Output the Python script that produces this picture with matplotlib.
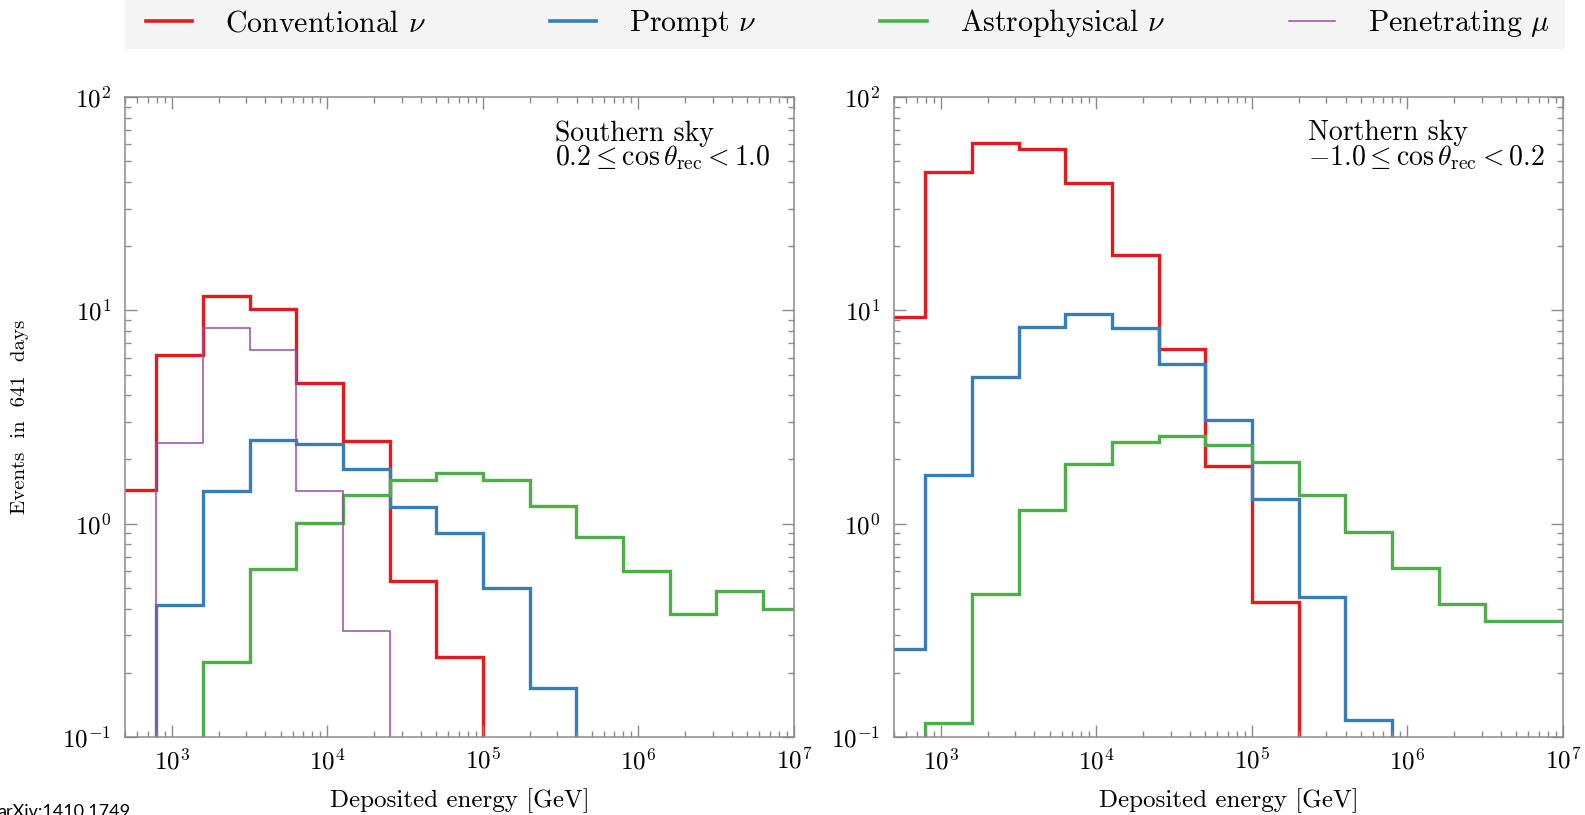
import numpy as np
import matplotlib
matplotlib.use("Agg")
import matplotlib.pyplot as plt
from matplotlib.lines import Line2D
from matplotlib.patches import Rectangle

plt.rcParams['font.family'] = 'serif'
plt.rcParams['font.serif'] = ['cmr10', 'DejaVu Serif']
plt.rcParams['mathtext.fontset'] = 'cm'
plt.rcParams['axes.formatter.use_mathtext'] = True
plt.rcParams['axes.unicode_minus'] = False

# ---------------- data ----------------
# bin edges in log10(E/GeV)
log_edges = [2.6, 2.9, 3.2, 3.5, 3.8, 4.1, 4.4, 4.7, 5.0, 5.3, 5.6, 5.9, 6.2, 6.5, 6.8, 7.1]

# Southern sky (0 = below plotted range)
south_conv   = [1.44, 6.18, 11.7, 10.1, 4.58, 2.43, 0.537, 0.237, 0, 0, 0, 0, 0, 0, 0]
south_prompt = [0, 0.414, 1.43, 2.46, 2.37, 1.81, 1.20, 0.908, 0.50, 0.170, 0, 0, 0, 0, 0]
south_astro  = [0, 0, 0.225, 0.611, 1.01, 1.36, 1.61, 1.73, 1.60, 1.21, 0.866, 0.60, 0.379, 0.483, 0.397]
south_muon   = [0, 2.39, 8.26, 6.54, 1.43, 0.313, 0, 0, 0, 0, 0, 0, 0, 0, 0]

# Northern sky
north_conv   = [9.3, 44.5, 60.8, 57.2, 39.7, 18.1, 6.56, 1.86, 0.431, 0, 0, 0, 0, 0, 0]
north_prompt = [0.258, 1.70, 4.87, 8.35, 9.58, 8.26, 5.62, 3.05, 1.30, 0.453, 0.120, 0, 0, 0, 0]
north_astro  = [0, 0.116, 0.47, 1.155, 1.90, 2.42, 2.57, 2.33, 1.95, 1.36, 0.91, 0.622, 0.42, 0.35, 0.35]

labels = [r'Conventional $\nu$', r'Prompt $\nu$', r'Astrophysical $\nu$', r'Penetrating $\mu$']
colors = ['#e41a1c', '#377eb8', '#4daf4a', '#984ea3']

edges = 10.0 ** np.array(log_edges)

W, H = 1585, 815
fig = plt.figure(figsize=(W / 100, H / 100), dpi=100)

def frac(x0, x1, ytop, ybot):
    return [x0 / W, 1 - ybot / H, (x1 - x0) / W, (ybot - ytop) / H]

axL = fig.add_axes(frac(125, 794, 97, 737))
axR = fig.add_axes(frac(894, 1563, 97, 737))

def draw(ax, series):
    for vals, c, lw in series:
        v = np.array(vals, dtype=float)
        v[v <= 0] = 1e-4
        ax.stairs(v, edges, baseline=1e-4, color=c, lw=lw)

draw(axL, [(south_conv, colors[0], 2.4), (south_prompt, colors[1], 2.4),
           (south_astro, colors[2], 2.4), (south_muon, colors[3], 1.1)])
draw(axR, [(north_conv, colors[0], 2.4), (north_prompt, colors[1], 2.4),
           (north_astro, colors[2], 2.4)])

for ax in (axL, axR):
    ax.set_xscale('log')
    ax.set_yscale('log')
    ax.set_xlim(500, 1e7)
    ax.set_ylim(0.1, 100)
    for s in ax.spines.values():
        s.set_color('#8a8a8a')
        s.set_linewidth(1.1)
    ax.tick_params(which='both', direction='in', top=True, right=True,
                   color='#8a8a8a', labelsize=18, width=1.0)
    ax.tick_params(which='major', length=8.5)
    ax.tick_params(which='minor', length=4.5)
    ax.tick_params(axis='x', which='major', pad=8)
    ax.tick_params(axis='y', which='major', pad=10)
    ax.set_xlabel('Deposited energy [GeV]', fontsize=18, labelpad=10)

axL.set_ylabel('Events  in  641  days', fontsize=15, labelpad=24)

axL.text(0.964, 0.964, 'Southern sky\n' + r'$0.2 \leq \cos\theta_{\rm rec} < 1.0$',
         transform=axL.transAxes, ha='right', va='top', fontsize=20,
         multialignment='left', linespacing=0.85)
axR.text(0.972, 0.964, 'Northern sky\n' + r'$-1.0 \leq \cos\theta_{\rm rec} < 0.2$',
         transform=axR.transAxes, ha='right', va='top', fontsize=20,
         multialignment='left', linespacing=0.85)

# legend background band
fig.patches.append(Rectangle((125 / W, 1 - 49 / H), (1565 - 125) / W, 49 / H + 0.01,
                             transform=fig.transFigure, facecolor='#f4f4f4',
                             edgecolor='none', zorder=0))

handles = [Line2D([], [], color=colors[0], lw=2.6),
           Line2D([], [], color=colors[1], lw=2.6),
           Line2D([], [], color=colors[2], lw=2.6),
           Line2D([], [], color=colors[3], lw=1.1)]
leg = fig.legend(handles, labels, loc='center',
                 bbox_to_anchor=(146 / W, 1 - 46 / H, (1550 - 146) / W, 46 / H),
                 mode='expand', ncol=4, fontsize=21.5, frameon=False,
                 handlelength=1.55, handletextpad=1.1,
                 borderaxespad=0, borderpad=0)

fig.text(-3 / W, 1 - 804 / H, 'arXiv:1410.1749', family='Lato', fontsize=13,
         ha='left', va='top', color='black')

fig.savefig('out.png', dpi=100)
